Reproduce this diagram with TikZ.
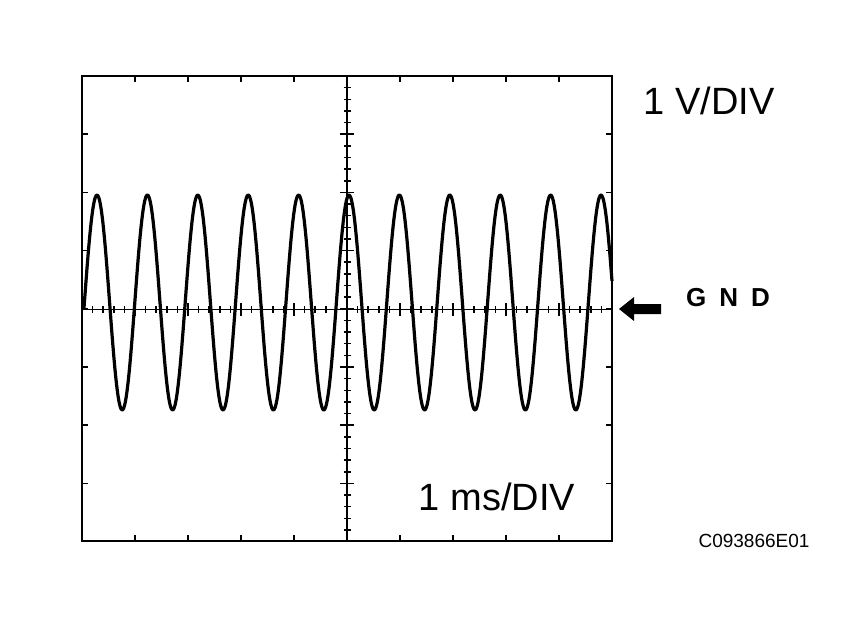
\documentclass[tikz,border=0pt]{standalone}
\usepackage{fontspec}
\setmainfont{Liberation Sans}
\begin{document}
\begin{tikzpicture}[x=1pt,y=-1pt,
  frame/.style={line width=2pt},
  axis/.style={line width=1.5pt},
  tick/.style={line width=1.5pt},
  wave/.style={line width=3.2pt,line join=round},
  lbl/.style={inner sep=0pt,font=\fontsize{38}{42}\selectfont}]
\useasboundingbox (0,0) rectangle (846,621);
\coordinate (tl) at (82,76);
\coordinate (br) at (612,541);
\draw[frame] (tl) rectangle (br);
% center axes
\draw[axis] (82,309.5) -- (612,309.5);
\draw[axis] (347,76) -- (347,541);
% frame major ticks
\foreach \i in {1,...,9}{
  \draw[tick] (82+53*\i,76) -- (82+53*\i,82);
  \draw[tick] (82+53*\i,541) -- (82+53*\i,535);
  \draw[tick] (82+53*\i,303) -- (82+53*\i,316);}
\foreach \j in {1,...,7}{
  \draw[tick] (82,76+58.2*\j) -- (88,76+58.2*\j);
  \draw[tick] (612,76+58.2*\j) -- (606,76+58.2*\j);
  \draw[tick] (340,76+58.2*\j) -- (354,76+58.2*\j);}
% minor ticks
\foreach \k in {1,...,49}{
  \draw[tick] (82+10.6*\k,306) -- (82+10.6*\k,313);}
\foreach \k in {1,...,39}{
  \draw[tick] (343.5,76+11.64*\k) -- (350.5,76+11.64*\k);}
% waveform
\draw[wave] plot[domain=84:612,samples=600,smooth] (\x,{302.5-107.5*cos((\x-97)/50.4*360)});
% labels
\node[lbl,anchor=east] (v) at (775,101) {1 V/DIV};
\node[lbl] (ms) at (497,497) {1 ms/DIV};
\node[inner sep=0pt,font=\bfseries\fontsize{26}{30}\selectfont,anchor=west] (gnd) at (686,298) {G\,\,\,N\,\,\,D};
\fill (619,309) -- (634,297) -- (634,304) -- (661,304) -- (661,314) -- (634,314) -- (634,321) -- cycle;
\node[inner sep=0pt,font=\fontsize{19}{22}\selectfont] (code) at (754,541) {C093866E01};
\end{tikzpicture}
\end{document}
